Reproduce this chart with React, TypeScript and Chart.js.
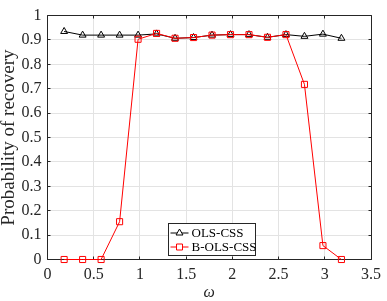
import { useEffect, useRef } from "react";
import { Chart, registerables } from "chart.js";

Chart.register(...registerables);

const omega = [0.18, 0.38, 0.58, 0.78, 0.98, 1.18, 1.38, 1.58, 1.78, 1.98, 2.18, 2.38, 2.58, 2.78, 2.98, 3.18];
const olsCss = [0.935, 0.92, 0.92, 0.92, 0.92, 0.925, 0.907, 0.91, 0.92, 0.922, 0.922, 0.911, 0.922, 0.915, 0.924, 0.907];
const bOlsCss = [0, 0, 0, 0.155, 0.903, 0.927, 0.907, 0.91, 0.92, 0.922, 0.922, 0.911, 0.922, 0.718, 0.057, 0];
const xTicks = [0, 0.5, 1, 1.5, 2, 2.5, 3, 3.5];
const yTicks = [0, 0.1, 0.2, 0.3, 0.4, 0.5, 0.6, 0.7, 0.8, 0.9, 1];
const xTickLabels = ["0", "0.5", "1", "1.5", "2", "2.5", "3", "3.5"];
const yTickLabels = ["0", "0.1", "0.2", "0.3", "0.4", "0.5", "0.6", "0.7", "0.8", "0.9", "1"];
const seriesNames = ["OLS-CSS", "B-OLS-CSS"];
const xTitle = "ω";
const yTitle = "Probability of recovery";

const FONT = '"Liberation Serif", "Times New Roman", serif';
const AXIS = "#262626";

const al = (p: number) => Math.round(p - 0.5) + 0.5;

const boxPlugin = {
  id: "matlabBox",
  beforeDatasetsDraw(chart: any) {
    const { ctx, chartArea: a, scales } = chart;
    const L = al(a.left), R = al(a.right), T = al(a.top), B = al(a.bottom);
    ctx.save();
    ctx.strokeStyle = AXIS;
    ctx.lineWidth = 1;
    ctx.beginPath();
    ctx.rect(L, T, R - L, B - T);
    const tl = 3;
    xTicks.forEach((v) => {
      const x = al(scales.x.getPixelForValue(v));
      ctx.moveTo(x, B); ctx.lineTo(x, B - tl);
      ctx.moveTo(x, T); ctx.lineTo(x, T + tl);
    });
    yTicks.forEach((v) => {
      const y = al(scales.y.getPixelForValue(v));
      ctx.moveTo(L, y); ctx.lineTo(L + tl, y);
      ctx.moveTo(R, y); ctx.lineTo(R - tl, y);
    });
    ctx.stroke();
    ctx.restore();
  },
};

const legendPlugin = {
  id: "boxLegend",
  afterDraw(chart: any) {
    const { ctx, chartArea: a } = chart;
    const bx = al(a.left + 121), by = al(a.bottom - 36);
    const bw = 87, bh = 32;
    ctx.save();
    ctx.fillStyle = "#ffffff";
    ctx.fillRect(bx, by, bw, bh);
    ctx.strokeStyle = AXIS;
    ctx.lineWidth = 1;
    ctx.strokeRect(bx, by, bw, bh);
    const rows = [by + 9.5, by + 23.5];
    const colors = ["#000000", "#ff0000"];
    rows.forEach((ry, i) => {
      ctx.strokeStyle = colors[i];
      ctx.lineWidth = 1;
      ctx.beginPath();
      ctx.moveTo(bx + 2, ry);
      ctx.lineTo(bx + 20, ry);
      ctx.stroke();
      const cx = bx + 11;
      ctx.beginPath();
      if (i === 0) {
        ctx.moveTo(cx, ry - 4);
        ctx.lineTo(cx + 3.46, ry + 2);
        ctx.lineTo(cx - 3.46, ry + 2);
        ctx.closePath();
      } else {
        ctx.rect(cx - 3, ry - 3, 6, 6);
      }
      ctx.fillStyle = "#ffffff";
      ctx.fill();
      ctx.stroke();
      ctx.fillStyle = "#000000";
      ctx.font = `13px ${FONT}`;
      ctx.textAlign = "left";
      ctx.textBaseline = "middle";
      ctx.fillText(seriesNames[i], bx + 23, ry + 0.5);
    });
    ctx.restore();
  },
};

export default function App() {
  const ref = useRef<HTMLCanvasElement | null>(null);
  useEffect(() => {
    if (!ref.current) return;
    const chart = new Chart(ref.current, {
      type: "line",
      data: {
        datasets: [
          {
            label: seriesNames[0],
            data: omega.map((x, i) => ({ x, y: olsCss[i] })),
            borderColor: "#000000",
            backgroundColor: "rgba(255,255,255,0)",
            borderWidth: 1,
            pointStyle: "triangle",
            pointRadius: 4,
            pointBorderWidth: 1,
            pointBorderColor: "#000000",
            pointBackgroundColor: "rgba(255,255,255,0)",
            tension: 0,
            clip: false,
            order: 2,
          } as any,
          {
            label: seriesNames[1],
            data: omega.map((x, i) => ({ x, y: bOlsCss[i] })),
            borderColor: "#ff0000",
            backgroundColor: "rgba(255,255,255,0)",
            borderWidth: 1,
            pointStyle: "rect",
            pointRadius: 4.3,
            pointBorderWidth: 1,
            pointBorderColor: "#ff0000",
            pointBackgroundColor: "rgba(255,255,255,0)",
            tension: 0,
            clip: false,
            order: 1,
          } as any,
        ],
      },
      options: {
        animation: false,
        responsive: false,
        devicePixelRatio: 1,
        layout: { padding: { left: 0, right: 12, top: 8, bottom: 0 } },
        plugins: { legend: { display: false }, tooltip: { enabled: false } },
        scales: {
          x: {
            type: "linear",
            min: 0,
            max: 3.5,
            afterBuildTicks: (s: any) => { s.ticks = xTicks.map((v) => ({ value: v })); },
            afterFit: (s: any) => { s.height = 41.5; },
            ticks: {
              padding: 6,
              color: AXIS,
              font: { family: FONT, size: 16 },
              callback: (v: any) => xTickLabels[xTicks.indexOf(Number(v))] ?? "",
              maxRotation: 0,
              autoSkip: false,
            },
            grid: { color: "#e3e3e3", drawTicks: false, lineWidth: 1 },
            border: { display: false },
            title: {
              display: true,
              text: xTitle,
              color: AXIS,
              font: { family: FONT, size: 16, style: "italic", lineHeight: 1 },
              padding: { top: 0, bottom: 0 },
            },
          },
          y: {
            type: "linear",
            min: 0,
            max: 1,
            afterBuildTicks: (s: any) => { s.ticks = yTicks.map((v) => ({ value: v })); },
            afterFit: (s: any) => { s.width = 47.5; },
            ticks: {
              padding: 6,
              color: AXIS,
              font: { family: FONT, size: 16 },
              callback: (v: any) => {
                const idx = yTicks.findIndex((t) => Math.abs(t - Number(v)) < 1e-9);
                return idx >= 0 ? yTickLabels[idx] : "";
              },
              autoSkip: false,
            },
            grid: { color: "#e3e3e3", drawTicks: false, lineWidth: 1 },
            border: { display: false },
            title: {
              display: true,
              text: yTitle,
              color: AXIS,
              font: { family: FONT, size: 19, lineHeight: 1 },
              padding: { top: 0, bottom: 0 },
            },
          },
        },
      },
      plugins: [boxPlugin, legendPlugin],
    });
    return () => chart.destroy();
  }, []);
  return (
    <div style={{ position: "fixed", left: 0, top: 0, width: 387, height: 301, background: "#fff" }}>
      <canvas ref={ref} width={387} height={301} style={{ display: "block", width: 387, height: 301 }} />
    </div>
  );
}
